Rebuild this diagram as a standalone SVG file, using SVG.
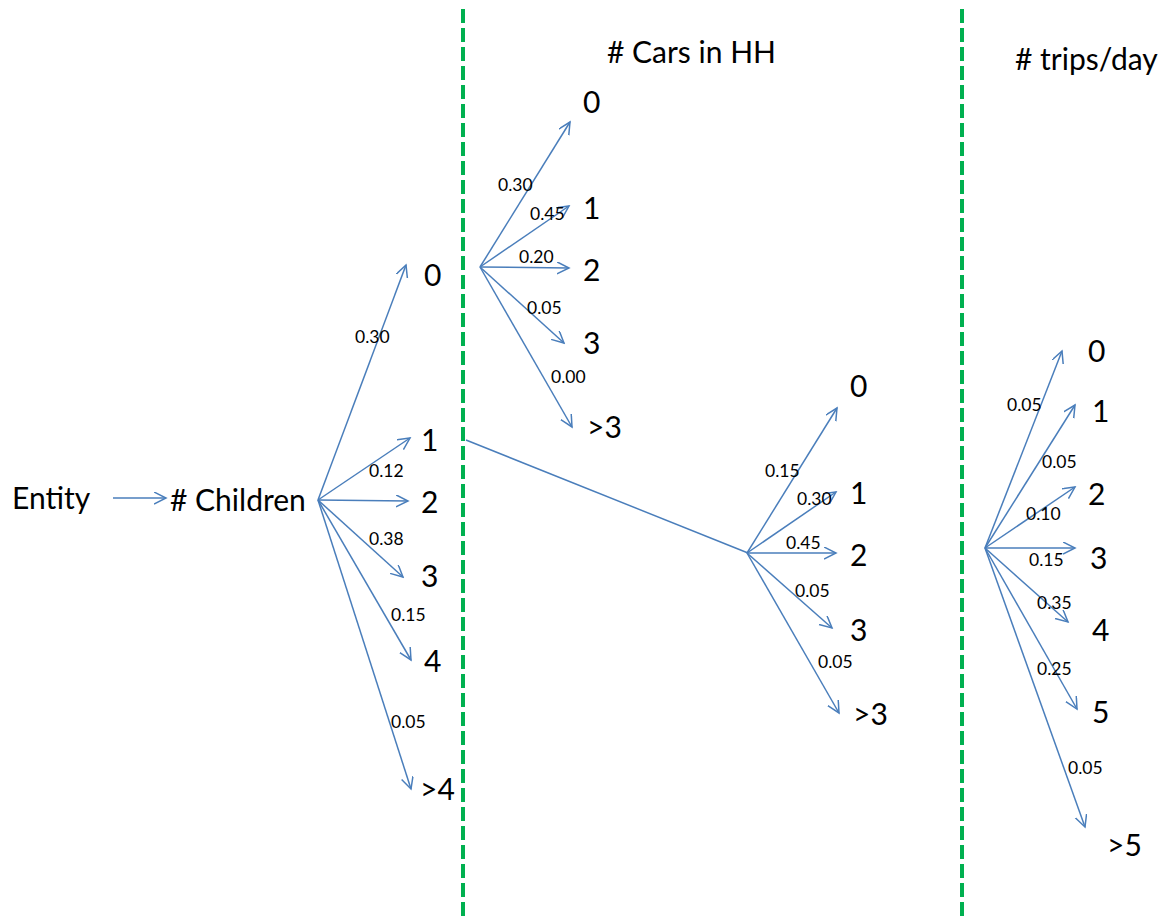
<svg xmlns="http://www.w3.org/2000/svg" width="1169" height="917" viewBox="0 0 1169 917">
  <defs>
    <marker id="arrow" markerUnits="userSpaceOnUse" markerWidth="14" markerHeight="14" refX="12" refY="6" orient="auto">
      <path d="M0,0 L12,6 L0,12" fill="none" stroke="#4a7ebb" stroke-width="1.5"/>
    </marker>
    <style>
      .edge { stroke: #4a7ebb; stroke-width: 1.5; fill: none; }
      .arr { marker-end: url(#arrow); }
      .divider { stroke: #00b050; stroke-width: 4; stroke-dasharray: 14 5; }
      .big { font-family: Lato, "Open Sans", sans-serif; font-size: 30px; fill: #000; }
      .head { font-family: Lato, "Open Sans", sans-serif; font-size: 30px; fill: #000; }
      .p { font-family: Lato, "Open Sans", sans-serif; font-size: 17.5px; fill: #000; }
    </style>
  </defs>
  <rect width="1169" height="917" fill="#ffffff"/>

  <!-- stage dividers -->
  <g id="dividers">
    <line class="divider" x1="463" y1="9" x2="463" y2="917"/>
    <line class="divider" x1="962" y1="9" x2="962" y2="917"/>
  </g>

  <!-- column headings -->
  <g id="headings">
    <text class="head" x="607" y="63"># Cars in HH</text>
    <text class="head" x="1015" y="70"># trips/day</text>
  </g>

  <!-- connectors -->
  <g id="connectors">
    <line class="edge arr" x1="113" y1="498" x2="166" y2="498"/>
    <!-- children fan -->
    <line class="edge arr" x1="318" y1="500" x2="406" y2="265"/>
    <line class="edge arr" x1="318" y1="500" x2="410" y2="438"/>
    <line class="edge arr" x1="318" y1="500" x2="408" y2="501"/>
    <line class="edge arr" x1="318" y1="500" x2="403" y2="577"/>
    <line class="edge arr" x1="318" y1="500" x2="411" y2="660"/>
    <line class="edge arr" x1="318" y1="500" x2="411" y2="789"/>
    <!-- cars fan, 0 children -->
    <line class="edge arr" x1="480" y1="267" x2="570" y2="122"/>
    <line class="edge arr" x1="480" y1="267" x2="569" y2="206"/>
    <line class="edge arr" x1="480" y1="267" x2="569" y2="268"/>
    <line class="edge arr" x1="480" y1="267" x2="564" y2="343"/>
    <line class="edge arr" x1="480" y1="267" x2="572" y2="427"/>
    <!-- link from 1 child to its cars fan -->
    <line class="edge" x1="466" y1="440" x2="748" y2="553"/>
    <!-- cars fan, 1 child -->
    <line class="edge arr" x1="747" y1="553" x2="837" y2="408"/>
    <line class="edge arr" x1="747" y1="553" x2="836" y2="492"/>
    <line class="edge arr" x1="747" y1="553" x2="836" y2="553"/>
    <line class="edge arr" x1="747" y1="553" x2="832" y2="628"/>
    <line class="edge arr" x1="747" y1="553" x2="839" y2="713"/>
    <!-- trips fan -->
    <line class="edge arr" x1="985" y1="548" x2="1062" y2="351"/>
    <line class="edge arr" x1="985" y1="548" x2="1075" y2="405"/>
    <line class="edge arr" x1="985" y1="548" x2="1075" y2="487"/>
    <line class="edge arr" x1="985" y1="548" x2="1075" y2="548"/>
    <line class="edge arr" x1="985" y1="548" x2="1068" y2="622"/>
    <line class="edge arr" x1="985" y1="548" x2="1077" y2="709"/>
    <line class="edge arr" x1="985" y1="548" x2="1085" y2="827"/>
  </g>

  <!-- probability labels -->
  <g id="probabilities">
    <text class="p" x="355" y="343">0.30</text>
    <text class="p" x="369" y="477">0.12</text>
    <text class="p" x="369" y="545">0.38</text>
    <text class="p" x="391" y="621">0.15</text>
    <text class="p" x="391" y="728">0.05</text>

    <text class="p" x="498" y="191">0.30</text>
    <text class="p" x="530" y="220">0.45</text>
    <text class="p" x="519" y="263">0.20</text>
    <text class="p" x="527" y="314">0.05</text>
    <text class="p" x="551" y="383">0.00</text>

    <text class="p" x="765" y="477">0.15</text>
    <text class="p" x="797" y="505">0.30</text>
    <text class="p" x="786" y="549">0.45</text>
    <text class="p" x="795" y="597">0.05</text>
    <text class="p" x="818" y="668">0.05</text>

    <text class="p" x="1007" y="411">0.05</text>
    <text class="p" x="1042" y="468">0.05</text>
    <text class="p" x="1026" y="520">0.10</text>
    <text class="p" x="1029" y="566">0.15</text>
    <text class="p" x="1037" y="609">0.35</text>
    <text class="p" x="1037" y="675">0.25</text>
    <text class="p" x="1068" y="774">0.05</text>
  </g>

  <!-- nodes -->
  <g id="entity"><text class="big" x="12" y="509">Entity</text></g>
  <g id="children"><text class="big" x="170" y="511"># Children</text></g>

  <g id="children-0"><text class="big" x="424" y="286">0</text></g>
  <g id="children-1"><text class="big" x="421" y="451">1</text></g>
  <g id="children-2"><text class="big" x="421" y="513">2</text></g>
  <g id="children-3"><text class="big" x="421" y="587">3</text></g>
  <g id="children-4"><text class="big" x="424" y="672">4</text></g>
  <g id="children-gt4"><text class="big" x="420" y="800">&gt;4</text></g>

  <g id="cars-a-0"><text class="big" x="583" y="113">0</text></g>
  <g id="cars-a-1"><text class="big" x="583" y="219">1</text></g>
  <g id="cars-a-2"><text class="big" x="583" y="281">2</text></g>
  <g id="cars-a-3"><text class="big" x="583" y="354">3</text></g>
  <g id="cars-a-gt3"><text class="big" x="587" y="438">&gt;3</text></g>

  <g id="cars-b-0"><text class="big" x="850" y="397">0</text></g>
  <g id="cars-b-1"><text class="big" x="850" y="504">1</text></g>
  <g id="cars-b-2"><text class="big" x="850" y="566">2</text></g>
  <g id="cars-b-3"><text class="big" x="850" y="641">3</text></g>
  <g id="cars-b-gt3"><text class="big" x="853" y="725">&gt;3</text></g>

  <g id="trips-0"><text class="big" x="1088" y="362">0</text></g>
  <g id="trips-1"><text class="big" x="1092" y="422">1</text></g>
  <g id="trips-2"><text class="big" x="1088" y="505">2</text></g>
  <g id="trips-3"><text class="big" x="1090" y="569">3</text></g>
  <g id="trips-4"><text class="big" x="1092" y="641">4</text></g>
  <g id="trips-5"><text class="big" x="1092" y="723">5</text></g>
  <g id="trips-gt5"><text class="big" x="1107" y="856">&gt;5</text></g>
</svg>
